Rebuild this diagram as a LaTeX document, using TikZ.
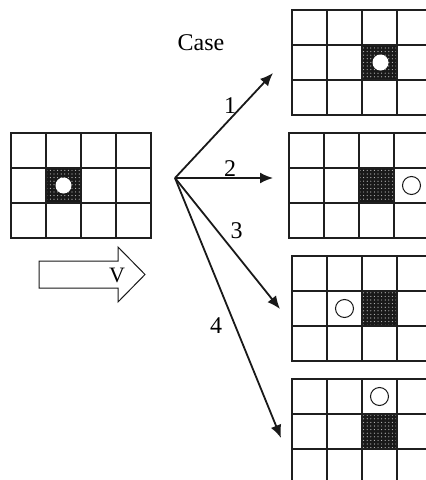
\documentclass[tikz,border=0pt]{standalone}
\usepackage{fontspec}
\setmainfont{Liberation Serif}
\usetikzlibrary{arrows.meta,patterns.meta}

\begin{document}
\begin{tikzpicture}[
    x=1pt, y=-1pt,
    cell/.style={draw=black!88, line width=1.1pt},
    spot/.style={fill=black!90, postaction={pattern={Dots[distance=3.6pt,radius=0.6pt]}, pattern color=white!75!black}},
    hole/.style={circle, fill=white, inner sep=0pt, minimum size=16pt},
    ring/.style={circle, draw=black!90, fill=white, line width=1pt, inner sep=0pt, minimum size=18pt},
    move/.style={draw=black!90, line width=1.8pt, -{Latex[length=13pt,width=11pt]}},
    lbl/.style={font=\fontsize{24}{28}\selectfont, inner sep=0pt}
]
\useasboundingbox (0,0) rectangle (426,480);
\clip (0,0) rectangle (426,480);

% grids: top left corner and shaded column
\foreach \gx/\gy/\sc in {11/133/1, 292/10/2, 289/133/2, 292/256/2, 292/379/2} {
  \fill[spot] (\gx+35*\sc, \gy+35) rectangle ++(35,35);
  \foreach \c in {0,...,3}
    \foreach \r in {0,...,2}
      \draw[cell] (\gx+35*\c, \gy+35*\r) rectangle ++(35,35);
}

% particle positions
\node[hole] (h0) at (63.5,185.5) {};
\node[hole] (h1) at (380.5,62.5) {};
\node[ring] (r2) at (411.5,185.5) {};
\node[ring] (r3) at (344.5,308.5) {};
\node[ring] (r4) at (379.5,396.5) {};

% flow direction
\draw[line width=1pt, draw=black!90] (39,261) -- (118,261) -- (118,247) -- (145,274.5)
  -- (118,302) -- (118,288) -- (39,288) -- cycle;
\node[lbl, font=\fontsize{22}{26}\selectfont] (vel) at (117,275) {V};

% the four cases
\coordinate (fork) at (175,178);
\coordinate (t1) at (273,73);
\coordinate (t2) at (273,178);
\coordinate (t3) at (280,309);
\coordinate (t4) at (281,438);
\draw[move] (fork) -- (t1);
\draw[move] (fork) -- (t2);
\draw[move] (fork) -- (t3);
\draw[move] (fork) -- (t4);

% labels
\node[lbl] (case) at (201,43) {Case};
\node[lbl] (n1) at (230,106) {1};
\node[lbl] (n2) at (230,169) {2};
\node[lbl] (n3) at (236.5,231) {3};
\node[lbl] (n4) at (216,326) {4};
\end{tikzpicture}
\end{document}
